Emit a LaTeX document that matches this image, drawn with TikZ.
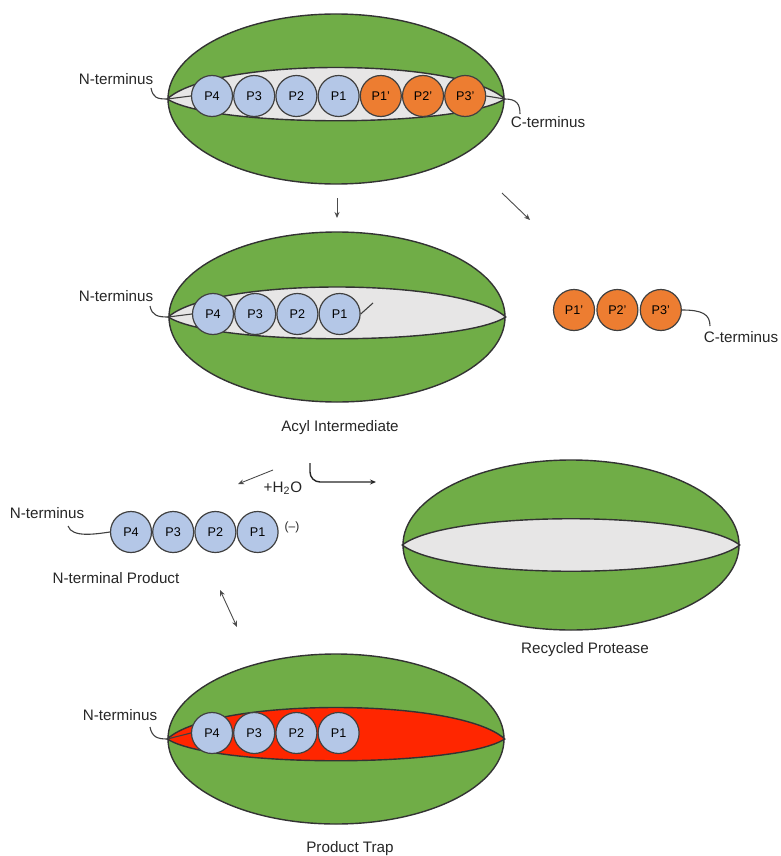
\documentclass[tikz,border=0pt]{standalone}
\usepackage{fontspec}
\setmainfont{Liberation Sans}
\usepackage{xcolor}
\usetikzlibrary{arrows.meta, positioning, shapes.geometric}
\definecolor{protgreen}{HTML}{70AD47}
\definecolor{pocketgray}{HTML}{E7E6E6}
\definecolor{resblue}{HTML}{B4C7E7}
\definecolor{resorange}{HTML}{ED7D31}
\definecolor{trapred}{HTML}{FF2600}

\begin{document}
\begin{tikzpicture}[x=0.5pt, y=-0.5pt,
  protease/.style={ellipse, draw=black!80, line width=0.7pt, fill=protgreen,
    minimum width=168pt, minimum height=85pt, inner sep=0pt},
  pocket/.style={draw=black!80, line width=0.7pt, fill=pocketgray},
  res/.style={circle, draw=black!75, line width=0.6pt, fill=resblue,
    minimum size=20.5pt, inner sep=0pt, font=\fontsize{6.3}{7}\selectfont},
  leaving/.style={res, fill=resorange},
  lbl/.style={font=\fontsize{7.6}{9}\selectfont, text=black!85, inner sep=1pt},
  tail/.style={draw=black!75, line width=0.55pt},
  arr/.style={-{Stealth[length=3pt, width=2.5pt]}, line width=0.45pt, black!70},
]
\useasboundingbox (0,0) rectangle (781,856);
% ====== SUBSTRATE BOUND ======
\node[protease] (top) at (336,99) {};
\draw[pocket] (top.west) .. controls +(45,-42) and +(-45,-42) .. (top.east)
  .. controls +(-45,29) and +(45,29) .. (top.west) -- cycle;
\node[lbl] (topN) at (116,79) {N-terminus};
\node[lbl] (topC) at (548,122) {C-terminus};
\coordinate (topNt) at (151,88);
\coordinate (topCt) at (520,114);
\node[res] (t4) at (212,96) {P4};
\node[res, right=0pt of t4] (t3) {P3};
\node[res, right=0pt of t3] (t2) {P2};
\node[res, right=0pt of t2] (t1) {P1};
\node[leaving, right=0pt of t1] (t1p) {P1'};
\node[leaving, right=0pt of t1p] (t2p) {P2'};
\node[leaving, right=0pt of t2p] (t3p) {P3'};
\draw[tail] (topNt) .. controls +(2,10) and +(-10,0) .. (top.west) -- (t4.west);
\draw[tail] (t3p.east) -- (top.east) .. controls +(12,0) and +(0,-10) .. (topCt);
%
\coordinate (cut1a) at (337,198);
\coordinate (cut1b) at (337,218);
\coordinate (cut2a) at (502,193);
\coordinate (cut2b) at (530,220);
\draw[arr] (cut1a) -- (cut1b);
\draw[arr] (cut2a) -- (cut2b);
%
% ====== ACYL INTERMEDIATE ======
\node[protease] (acyl) at (337,317) {};
\draw[pocket] (acyl.west) .. controls +(45,-40) and +(-45,-40) .. (acyl.east)
  .. controls +(-45,29) and +(45,29) .. (acyl.west) -- cycle;
\node[lbl] (acylN) at (116,296) {N-terminus};
\coordinate (acylNt) at (150,306);
\node[res] (a4) at (213,314) {P4};
\node[res, right=0pt of a4] (a3) {P3};
\node[res, right=0pt of a3] (a2) {P2};
\node[res, right=0pt of a2] (a1) {P1};
\coordinate (acylbond) at (373,303);
\draw[tail] (acylNt) .. controls +(2,10) and +(-10,0) .. (acyl.west) -- (a4.west);
\draw[tail] (a1.east) -- (acylbond);
\node[lbl] (acylname) at (340,428) {Acyl Intermediate};
%
% ====== C-TERMINAL FRAGMENT ======
\node[leaving] (f1) at (574,310) {P1'};
\node[leaving, right=0.6pt of f1] (f2) {P2'};
\node[leaving, right=0.6pt of f2] (f3) {P3'};
\node[lbl] (freeC) at (741,337) {C-terminus};
\coordinate (freeCt) at (710,326);
\draw[tail] (f3.east) .. controls +(20,0) and +(0,-12) .. (freeCt);
%
% ====== HYDROLYSIS ======
\node[lbl] (water) at (283,488) {+H\textsubscript{2}O};
\coordinate (hyd1) at (273,470);
\coordinate (hyd2) at (238,484);
\coordinate (rel1) at (310,463);
\coordinate (rel2) at (376,482);
\draw[arr] (hyd1) -- (hyd2);
\draw[arr, line width=0.7pt, black!85, rounded corners=5pt] (rel1) |- (rel2);
%
% ====== N-TERMINAL PRODUCT ======
\node[lbl] (prodN) at (47,513) {N-terminus};
\coordinate (prodNt) at (68,526);
\node[res] (p4) at (131,532) {P4};
\node[res, right=0pt of p4] (p3) {P3};
\node[res, right=0pt of p3] (p2) {P2};
\node[res, right=0pt of p2] (p1) {P1};
\node[font=\fontsize{6}{7}\selectfont, text=black!85, inner sep=0pt] (charge) at (292,527) {(--)};
\draw[tail] (prodNt) .. controls +(4,12) and +(-14,2) .. (p4.west);
\node[lbl] (prodname) at (116,578) {N-terminal Product};
\coordinate (eq1) at (220,590);
\coordinate (eq2) at (237,627);
\draw[arr, {Stealth[length=3pt, width=2.5pt]}-{Stealth[length=3pt, width=2.5pt]}] (eq1) -- (eq2);
%
% ====== RECYCLED PROTEASE ======
\node[protease] (recyc) at (571,545) {};
\draw[pocket] (recyc.west) .. controls +(45,-35) and +(-45,-35) .. (recyc.east)
  .. controls +(-45,35) and +(45,35) .. (recyc.west) -- cycle;
\node[lbl] (recycname) at (585,650) {Recycled Protease};
%
% ====== PRODUCT TRAP ======
\node[protease] (trap) at (336,739) {};
\draw[pocket, fill=trapred] (trap.west) .. controls +(45,-42) and +(-45,-42) .. (trap.east)
  .. controls +(-45,29) and +(45,29) .. (trap.west) -- cycle;
\node[lbl] (trapN) at (120,715) {N-terminus};
\coordinate (trapNt) at (150,727);
\node[res] (r4) at (212,733) {P4};
\node[res, right=0pt of r4] (r3) {P3};
\node[res, right=0pt of r3] (r2) {P2};
\node[res, right=0pt of r2] (r1) {P1};
\draw[tail] (trapNt) .. controls +(2,10) and +(-10,0) .. (trap.west) -- (r4.west);
\node[lbl] (trapname) at (350,849) {Product Trap};
\end{tikzpicture}
\end{document}
